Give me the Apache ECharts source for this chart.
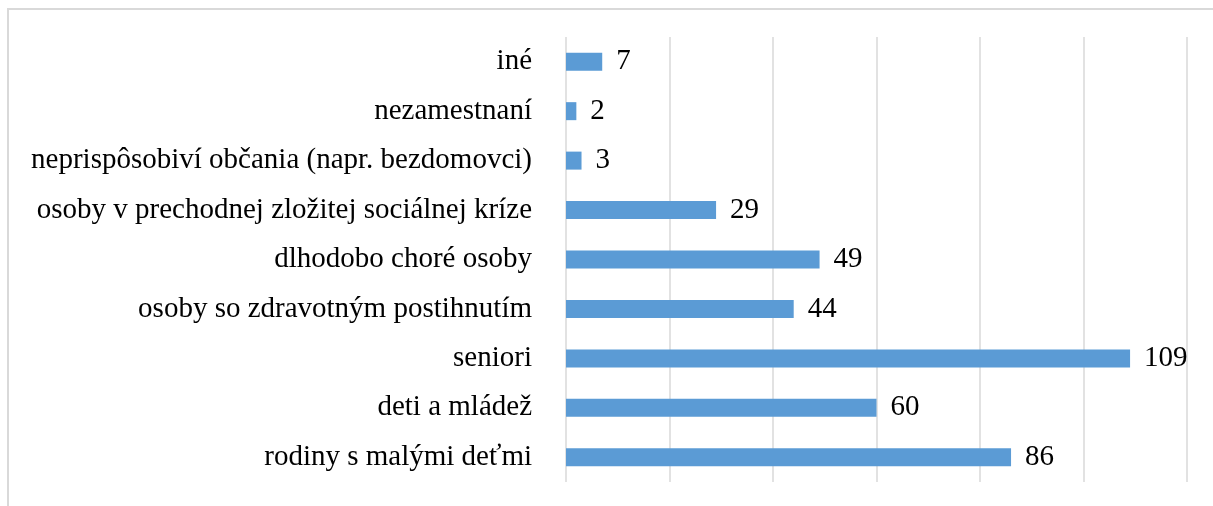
<!DOCTYPE html>
<html>
<head>
<meta charset="utf-8">
<script src="https://cdn.jsdelivr.net/npm/echarts@6/dist/echarts.min.js"></script>
<style>
html,body{margin:0;padding:0;background:#fff;}
#chart{width:1213px;height:506px;}
</style>
</head>
<body>
<div id="chart"></div>
<script>
var categories = [
  "rodiny s malými deťmi",
  "deti a mládež",
  "seniori",
  "osoby so zdravotným postihnutím",
  "dlhodobo choré osoby",
  "osoby v prechodnej zložitej sociálnej kríze",
  "neprispôsobiví občania (napr. bezdomovci)",
  "nezamestnaní",
  "iné"
];
var values = [86, 60, 109, 44, 49, 29, 3, 2, 7];

var chart = echarts.init(document.getElementById('chart'));
chart.setOption({
  animation: false,
  textStyle: {fontFamily: '"Liberation Serif", "Times New Roman", serif'},
  graphic: [{
    type: 'rect',
    shape: {x: 8, y: 9, width: 1240, height: 540},
    style: {fill: 'none', stroke: '#d9d9d9', lineWidth: 2},
    silent: true
  }],
  grid: {left: 566, right: 26, top: 37, bottom: 24, containLabel: false},
  xAxis: {
    type: 'value',
    min: 0, max: 120, interval: 20,
    axisLabel: {show: false},
    axisLine: {show: false},
    axisTick: {show: false},
    splitLine: {show: true, lineStyle: {color: '#d9d9d9', width: 1.5}}
  },
  yAxis: {
    type: 'category',
    data: categories,
    axisLine: {show: false},
    axisTick: {show: false},
    axisLabel: {
      color: '#000',
      fontSize: 29,
      margin: 34,
      fontFamily: '"Liberation Serif", "Times New Roman", serif'
    }
  },
  series: [{
    type: 'bar',
    data: values,
    barWidth: 18,
    itemStyle: {color: '#5b9bd5'},
    label: {
      show: true,
      position: 'right',
      distance: 14,
      color: '#000',
      fontSize: 29,
      fontFamily: '"Liberation Serif", "Times New Roman", serif'
    }
  }]
});
</script>
</body>
</html>
